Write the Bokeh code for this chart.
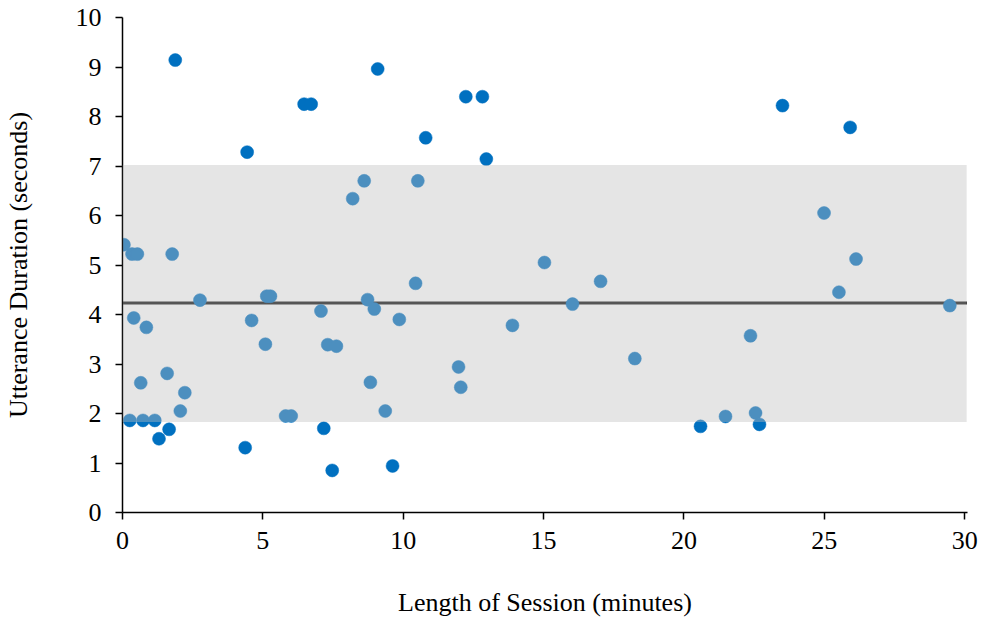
from bokeh.plotting import figure
from bokeh.models import Range1d, FixedTicker, BoxAnnotation, ColumnDataSource
from bokeh.embed import file_html
from bokeh.resources import INLINE

# Data
session_minutes = [
    1.88, 4.44, 6.47, 6.72, 9.09, 10.80, 12.23, 12.82, 12.96, 23.51, 25.92,
    1.30, 1.66, 4.37, 7.17, 7.47, 9.62, 20.59, 22.69,
    0.05, 0.34, 0.53, 1.77, 0.40, 0.85, 2.76, 0.65, 1.59, 2.22, 2.06,
    0.26, 0.73, 1.15, 4.60, 5.09, 5.14, 5.27, 5.81, 6.01, 7.07, 7.31,
    7.62, 8.20, 8.61, 8.73, 8.97, 8.83, 9.36, 9.86, 10.52, 10.44, 11.97,
    12.05, 13.89, 15.03, 16.03, 17.03, 18.25, 21.48, 22.37, 22.55, 24.99,
    25.52, 26.13, 29.47,
]
utterance_seconds = [
    9.14, 7.28, 8.25, 8.25, 8.96, 7.57, 8.40, 8.40, 7.14, 8.22, 7.78,
    1.49, 1.68, 1.31, 1.70, 0.85, 0.94, 1.74, 1.78,
    5.41, 5.22, 5.22, 5.22, 3.93, 3.74, 4.29, 2.62, 2.81, 2.42, 2.05,
    1.86, 1.86, 1.86, 3.88, 3.40, 4.37, 4.37, 1.95, 1.95, 4.07, 3.39,
    3.36, 6.34, 6.70, 4.30, 4.11, 2.63, 2.05, 3.90, 6.70, 4.63, 2.94,
    2.53, 3.78, 5.05, 4.21, 4.67, 3.11, 1.94, 3.57, 2.01, 6.05,
    4.45, 5.12, 4.18,
]
band_low = 1.83
band_high = 7.02
band_right = 30.07
center_value = 4.23
x_ticks = [0, 5, 10, 15, 20, 25, 30]
y_ticks = [0, 1, 2, 3, 4, 5, 6, 7, 8, 9, 10]

FONT = "Liberation Serif"

p = figure(
    width=980, height=620,
    x_range=Range1d(0, 30.1), y_range=Range1d(0, 10),
    output_backend="svg", toolbar_location=None,
    min_border_left=120, min_border_right=13, min_border_top=17, min_border_bottom=108,
)
p.outline_line_color = None
p.grid.visible = False
p.background_fill_color = "white"
p.border_fill_color = "white"

# center line (under points)
p.line(x=[0, 30.08], y=[center_value, center_value], line_color="#101010", line_width=3)

src = ColumnDataSource(dict(x=session_minutes, y=utterance_seconds))
p.scatter(x="x", y="y", source=src, size=13, fill_color="#0070C0", line_color="#0070C0", line_width=0.5)

band = BoxAnnotation(left=0, right=band_right, bottom=band_low, top=band_high,
                     fill_color="#bfbfbf", fill_alpha=0.4, line_color=None, level="overlay")
p.add_layout(band)

for ax in (p.xaxis, p.yaxis):
    ax.axis_line_color = "black"
    ax.axis_line_width = 1.5
    ax.major_tick_line_color = "black"
    ax.major_tick_line_width = 1.5
    ax.major_tick_out = 7
    ax.major_tick_in = 0
    ax.minor_tick_line_color = None
    ax.major_label_text_font = FONT
    ax.major_label_text_font_size = "26px"
    ax.major_label_text_color = "black"
    ax.axis_label_text_font = FONT
    ax.axis_label_text_font_size = "26px"
    ax.axis_label_text_font_style = "normal"
    ax.axis_label_text_color = "black"

p.xaxis.ticker = FixedTicker(ticks=x_ticks)
p.yaxis.ticker = FixedTicker(ticks=y_ticks)
p.xaxis.axis_label = "Length of Session (minutes)"
p.yaxis.axis_label = "Utterance Duration (seconds)"
p.xaxis.major_label_standoff = 12
p.yaxis.major_label_standoff = 14
p.xaxis.axis_label_standoff = 36
p.yaxis.axis_label_standoff = 40

open("out.html", "w").write(file_html(p, INLINE))
